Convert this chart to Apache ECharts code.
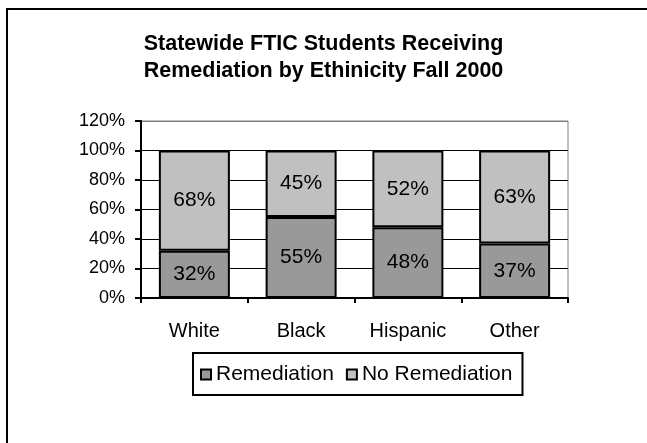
<!DOCTYPE html>
<html><head><meta charset="utf-8">
<script src="https://cdn.jsdelivr.net/npm/echarts@6/dist/echarts.min.js"></script>
<style>html,body{margin:0;padding:0;background:#fff}#c{width:647px;height:443px}</style>
</head><body><div id="c"></div>
<script>
const categories = ['White', 'Black', 'Hispanic', 'Other'];
const remediation = [32, 55, 48, 37];
const noRemediation = [68, 45, 52, 63];
const yTicks = [0, 20, 40, 60, 80, 100, 120];

const chart = echarts.init(document.getElementById('c'), null, {renderer: 'canvas'});
const font = 'Arial, "Liberation Sans", sans-serif';
const labelCfg = {show: true, position: 'inside', color: '#000', fontSize: 21, fontFamily: font, formatter: p => p.value + '%'};
chart.setOption({
  animation: false,
  backgroundColor: '#fff',
  graphic: [{type: 'rect', shape: {x: 7, y: 9, width: 700, height: 500}, style: {fill: 'none', stroke: '#000', lineWidth: 2}, silent: true}],
  title: {
    text: 'Statewide FTIC Students Receiving\nRemediation by Ethinicity Fall 2000',
    left: 'center', top: 26,
    textStyle: {fontFamily: font, fontWeight: 'bold', fontSize: 21.5, lineHeight: 27, color: '#000'}
  },
  grid: {left: 141, right: 79, top: 121, bottom: 145, show: true, borderColor: '#808080', borderWidth: 1, containLabel: false},
  legend: {
    data: ['Remediation', 'No Remediation'],
    left: 193, top: 353,
    itemWidth: 10, itemHeight: 10, itemGap: 12,
    padding: [11, 10, 10, 7],
    borderColor: '#000', borderWidth: 2,
    icon: 'rect',
    textStyle: {fontFamily: font, fontSize: 21, color: '#000'},
  },
  xAxis: {
    type: 'category', data: categories,
    axisLine: {lineStyle: {color: '#000', width: 2}},
    axisTick: {show: true, length: 5, lineStyle: {color: '#000', width: 2}},
    axisLabel: {color: '#000', fontFamily: font, fontSize: 20, margin: 23},
  },
  yAxis: {
    type: 'value', min: 0, max: 120, interval: 20,
    axisLine: {show: true, lineStyle: {color: '#000', width: 2}},
    axisTick: {show: true, length: 6, lineStyle: {color: '#000', width: 2}},
    axisLabel: {color: '#000', fontFamily: font, fontSize: 18, margin: 16, formatter: v => v + '%'},
    splitLine: {show: true, lineStyle: {color: ['#000', '#000', '#000', '#000', '#000', '#000', '#808080'], width: 1}},
  },
  series: [
    {name: 'Remediation', type: 'bar', stack: 't', data: remediation, barWidth: 71,
     itemStyle: {color: '#999999', borderColor: '#000', borderWidth: 2}, label: labelCfg},
    {name: 'No Remediation', type: 'bar', stack: 't', data: noRemediation, barWidth: 71,
     itemStyle: {color: '#c0c0c0', borderColor: '#000', borderWidth: 2}, label: labelCfg},
  ]
});
</script></body></html>
